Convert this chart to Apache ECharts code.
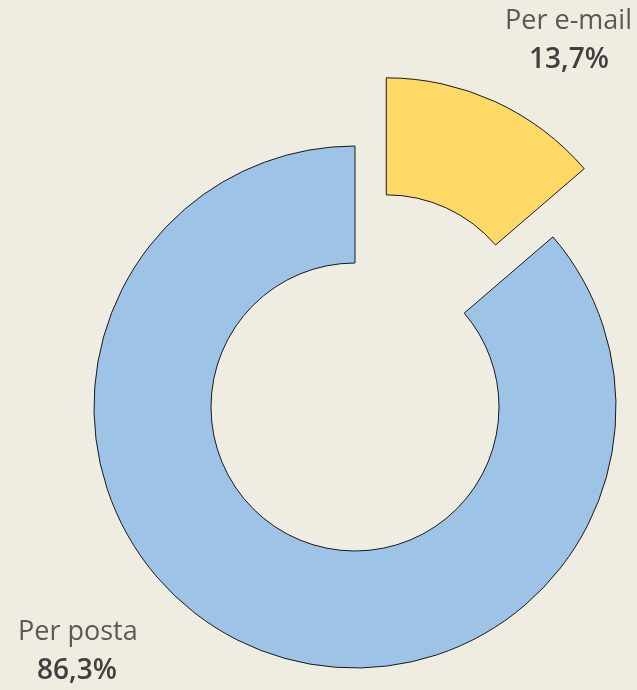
<!DOCTYPE html>
<html>
<head>
<meta charset="utf-8">
<script src="https://cdn.jsdelivr.net/npm/echarts@6/dist/echarts.min.js"></script>
<style>
  html, body { margin: 0; padding: 0; background: #EFECE1; }
  #chart { width: 637px; height: 690px; }
</style>
</head>
<body>
<div id="chart"></div>
<script>
// data
const categories = ['Per e-mail', 'Per posta'];
const shares = [13.7, 86.3];
const sliceColors = ['#FFD966', '#9DC3E6'];

const fmt = v => v.toFixed(1).replace('.', ',') + '%';

const chart = echarts.init(document.getElementById('chart'));

const nameFont = '27px "Open Sans"';
const pctFont = '600 28px "Open Sans"';

chart.setOption({
  backgroundColor: '#EFECE1',
  animation: false,
  series: [{
    type: 'pie',
    center: [355, 407],
    radius: [144, 261],
    startAngle: 90,
    clockwise: true,
    selectedMode: 'single',
    selectedOffset: 75,
    label: { show: false },
    labelLine: { show: false },
    emphasis: { disabled: true },
    itemStyle: { borderColor: '#1a1a1a', borderWidth: 1 },
    data: categories.map((name, i) => ({
      name: name,
      value: shares[i],
      selected: i === 0,
      itemStyle: { color: sliceColors[i] }
    }))
  }],
  // category labels sit outside the ring like in the original
  graphic: [
    {
      type: 'text', x: 632, y: 21,
      style: { text: categories[0], font: nameFont, fill: '#595959', textAlign: 'right', textVerticalAlign: 'middle' }
    },
    {
      type: 'text', x: 569, y: 60,
      style: { text: fmt(shares[0]), font: pctFont, fill: '#404040', textAlign: 'center', textVerticalAlign: 'middle' }
    },
    {
      type: 'text', x: 18, y: 632,
      style: { text: categories[1], font: nameFont, fill: '#595959', textAlign: 'left', textVerticalAlign: 'middle' }
    },
    {
      type: 'text', x: 77, y: 671,
      style: { text: fmt(shares[1]), font: pctFont, fill: '#404040', textAlign: 'center', textVerticalAlign: 'middle' }
    }
  ]
});
</script>
</body>
</html>
